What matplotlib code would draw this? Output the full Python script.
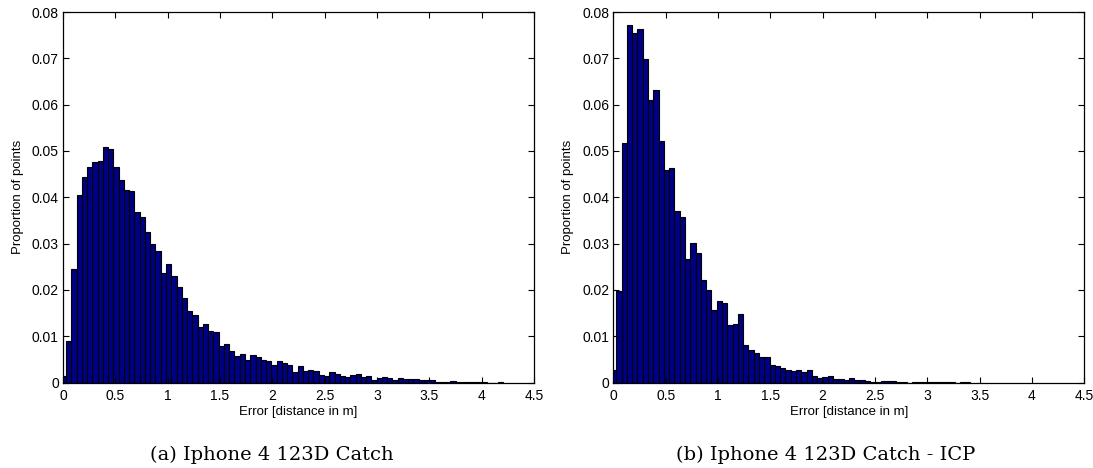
import numpy as np
import matplotlib
matplotlib.use("Agg")
import matplotlib.pyplot as plt

# Histogram heights (proportion of points per bin)
catch_props = [0.0013, 0.0090, 0.0245, 0.0405, 0.0444, 0.0465, 0.0476, 0.0478, 0.0509, 0.0505,
               0.0466, 0.0437, 0.0415, 0.0414, 0.0368, 0.0358, 0.0325, 0.0299, 0.0283, 0.0236,
               0.0256, 0.0231, 0.0207, 0.0183, 0.0155, 0.0145, 0.0120, 0.0127, 0.0111, 0.0108,
               0.0078, 0.0084, 0.0069, 0.0058, 0.0062, 0.0048, 0.0059, 0.0055, 0.0048, 0.0047,
               0.0037, 0.0046, 0.0042, 0.0037, 0.0023, 0.0035, 0.0025, 0.0027, 0.0024, 0.0017,
               0.0014, 0.0023, 0.0018, 0.0014, 0.0012, 0.0016, 0.0018, 0.0012, 0.0014, 0.0006,
               0.0009, 0.0012, 0.0009, 0.0006, 0.0009, 0.0008, 0.0007, 0.0008, 0.0006, 0.0005,
               0.0005, 0.0002, 0.0001, 0.0001, 0.0003, 0.0001, 0.0001, 0.0001, 0.0001, 0.0001,
               0.0001, 0.0, 0.0, 0.0001]
icp_props = [0.0028, 0.0198, 0.0518, 0.0773, 0.0754, 0.0764, 0.0699, 0.0611, 0.0631, 0.0521,
             0.0459, 0.0464, 0.0371, 0.0357, 0.0266, 0.0301, 0.0279, 0.0221, 0.0199, 0.0156,
             0.0175, 0.0171, 0.0124, 0.0127, 0.0147, 0.0082, 0.0071, 0.0064, 0.0056, 0.0056,
             0.0037, 0.0035, 0.0032, 0.0026, 0.0024, 0.0027, 0.0022, 0.0028, 0.0014, 0.0009,
             0.0012, 0.0014, 0.0008, 0.0007, 0.0006, 0.0009, 0.0006, 0.0005, 0.0003, 0.0002,
             0.0001, 0.0004, 0.0004, 0.0003, 0.0002, 0.0001, 0.0, 0.0001, 0.0001, 0.0001,
             0.0001, 0.0001, 0.0001, 0.0001, 0.0001, 0.0, 0.0001, 0.0001]

catch_bin_width = 0.0503
icp_bin_width = 0.0505
first_center = 0.0035

x_ticks = [0, 0.5, 1, 1.5, 2, 2.5, 3, 3.5, 4, 4.5]
x_tick_labels = ['0', '0.5', '1', '1.5', '2', '2.5', '3', '3.5', '4', '4.5']
y_ticks = [0, 0.01, 0.02, 0.03, 0.04, 0.05, 0.06, 0.07, 0.08]
y_tick_labels = ['0', '0.01', '0.02', '0.03', '0.04', '0.05', '0.06', '0.07', '0.08']

captions = ['(a) Iphone 4 123D Catch', '(b) Iphone 4 123D Catch - ICP']

plt.rcParams['font.family'] = ['Liberation Sans', 'DejaVu Sans']

fig = plt.figure(figsize=(10.93, 4.68), dpi=100)
ax1 = fig.add_axes([63 / 1093, 1 - 382.5 / 468, 471 / 1093, 370.5 / 468])
ax2 = fig.add_axes([613.3 / 1093, 1 - 382.5 / 468, 471 / 1093, 370.5 / 468])

panels = [(ax1, catch_props, catch_bin_width), (ax2, icp_props, icp_bin_width)]
for ax, props, bw in panels:
    centers = first_center + bw * np.arange(len(props))
    ax.bar(centers, props, width=bw, color=(0, 0, 0.52), edgecolor='black', linewidth=0.8)
    ax.set_xlim(0, 4.5)
    ax.set_ylim(0, 0.08)
    ax.set_xticks(x_ticks)
    ax.set_xticklabels(x_tick_labels)
    ax.set_yticks(y_ticks)
    ax.set_yticklabels(y_tick_labels)
    ax.tick_params(direction='in', top=True, right=True, length=4, width=0.8, labelsize=10)
    ax.tick_params(axis='x', pad=5)
    ax.tick_params(axis='y', pad=3)
    for s in ax.spines.values():
        s.set_linewidth(0.9)
    ax.set_xlabel('Error [distance in m]', fontsize=9.5)
    ax.xaxis.set_label_coords(0.5, -0.063)
    ax.set_ylabel('Proportion of points', fontsize=9.5)
    ax.yaxis.set_label_coords(-0.083, 0.5)

for xc, cap in zip([272, 826], captions):
    fig.text(xc / 1093, 1 - 460 / 468, cap, ha='center', va='baseline',
             fontsize=14, family=['DejaVu Serif'])

fig.savefig('out.png', dpi=100)
